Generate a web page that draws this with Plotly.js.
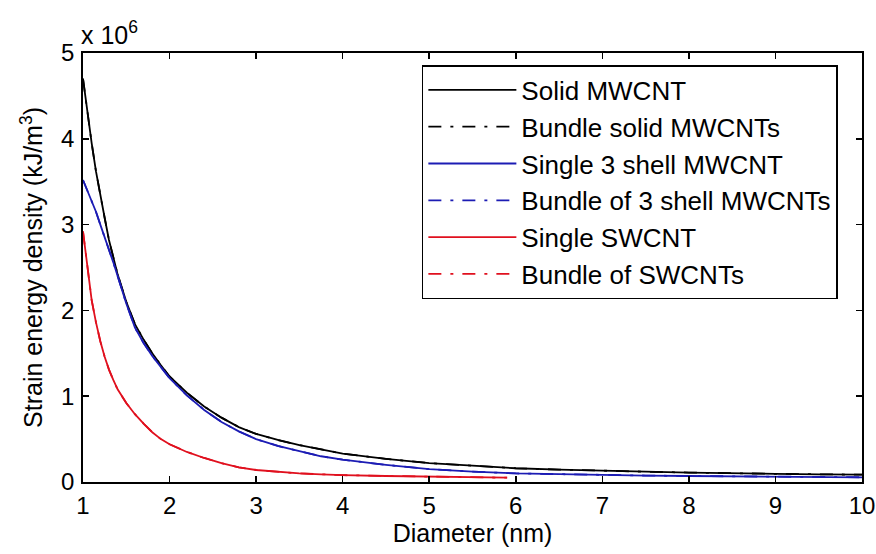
<!DOCTYPE html>
<html>
<head>
<meta charset="utf-8">
<script src="https://cdn.plot.ly/plotly-3.0.1.min.js"></script>
<style>html,body{margin:0;padding:0;background:#fff;}#chart{width:876px;height:554px;}</style>
</head>
<body>
<div id="chart"></div>
<script>
// Diameter (nm)
var diameter = [1.0,1.05,1.1,1.15,1.2,1.25,1.3,1.35,1.4,1.5,1.6,1.7,1.8,1.9,2.0,2.2,2.4,2.6,2.8,3.0,3.25,3.5,3.75,4.0,4.5,5.0,5.5,6.0,6.5,7.0,7.5,8.0,8.5,9.0,9.5,10.0];
var swcntDiameter = [1.0,1.05,1.1,1.15,1.2,1.25,1.3,1.35,1.4,1.5,1.6,1.7,1.8,1.9,2.0,2.2,2.4,2.6,2.8,3.0,3.25,3.5,3.75,4.0,4.5,5.0,5.5,5.9];
// Strain energy density, in units of 10^6 kJ/m^3
var solidMWCNT = [4.70,4.30,3.95,3.62,3.33,3.08,2.82,2.62,2.42,2.10,1.84,1.66,1.50,1.36,1.23,1.04,0.88,0.75,0.64,0.56,0.49,0.43,0.38,0.33,0.27,0.22,0.19,0.16,0.145,0.13,0.12,0.11,0.10,0.095,0.09,0.085];
var bundleSolidMWCNT = [4.70,4.30,3.95,3.62,3.33,3.08,2.82,2.62,2.42,2.10,1.84,1.66,1.50,1.36,1.23,1.04,0.88,0.75,0.64,0.56,0.49,0.43,0.38,0.33,0.27,0.22,0.19,0.16,0.145,0.13,0.12,0.11,0.10,0.095,0.09,0.085];
var threeShellMWCNT = [3.52,3.40,3.29,3.15,3.00,2.86,2.70,2.56,2.40,2.08,1.80,1.62,1.47,1.34,1.21,1.01,0.84,0.70,0.59,0.50,0.42,0.36,0.30,0.26,0.20,0.15,0.12,0.10,0.09,0.08,0.075,0.07,0.065,0.06,0.058,0.055];
var bundleThreeShellMWCNT = [3.52,3.40,3.29,3.15,3.00,2.86,2.70,2.56,2.40,2.08,1.80,1.62,1.47,1.34,1.21,1.01,0.84,0.70,0.59,0.50,0.42,0.36,0.30,0.26,0.20,0.15,0.12,0.10,0.09,0.08,0.075,0.07,0.065,0.06,0.058,0.055];
var singleSWCNT = [2.92,2.50,2.12,1.86,1.64,1.46,1.31,1.19,1.08,0.92,0.79,0.68,0.58,0.50,0.44,0.35,0.28,0.22,0.17,0.14,0.12,0.10,0.09,0.08,0.07,0.06,0.055,0.05];
var bundleSWCNT = [2.92,2.50,2.12,1.86,1.64,1.46,1.31,1.19,1.08,0.92,0.79,0.68,0.58,0.50,0.44,0.35,0.28,0.22,0.17,0.14,0.12,0.10,0.09,0.08,0.07,0.06,0.055,0.05];
var xTicks = [1,2,3,4,5,6,7,8,9,10];
var yTicks = [0,1,2,3,4,5];
var yTickLabels = ['0','1','2','3','4','5'];

var BLACK = '#000000', BLUE = '#1c1cb4', RED = '#e0101e';
var DASHDOT = '13px,9px,3px,9px';
var FONT = 'Liberation Sans, Arial, sans-serif';

var traces = [
  {x: diameter, y: solidMWCNT, name: 'Solid MWCNT', line: {color: BLACK, width: 1.8}},
  {x: diameter, y: bundleSolidMWCNT, name: 'Bundle solid MWCNTs', line: {color: BLACK, width: 1.8, dash: DASHDOT}},
  {x: diameter, y: threeShellMWCNT, name: 'Single 3 shell MWCNT', line: {color: BLUE, width: 1.8}},
  {x: diameter, y: bundleThreeShellMWCNT, name: 'Bundle of 3 shell MWCNTs', line: {color: BLUE, width: 1.8, dash: DASHDOT}},
  {x: swcntDiameter, y: singleSWCNT, name: 'Single SWCNT', line: {color: RED, width: 1.8}},
  {x: swcntDiameter, y: bundleSWCNT, name: 'Bundle of SWCNTs', line: {color: RED, width: 1.8, dash: DASHDOT}}
].map(function(t, i){ t.type = 'scatter'; t.mode = 'lines'; t.legendgroup = 'g' + i; return t; });

var layout = {
  width: 876, height: 554,
  margin: {l: 83, r: 14, t: 53, b: 72, pad: 0},
  paper_bgcolor: '#ffffff', plot_bgcolor: '#ffffff',
  font: {family: FONT, size: 24, color: '#000'},
  showlegend: true,
  legend: {
    x: 0.435, y: 0.972, xanchor: 'left', yanchor: 'top',
    bgcolor: '#ffffff', bordercolor: '#000', borderwidth: 1.5,
    font: {family: FONT, size: 26, color: '#000'},
    itemwidth: 88, tracegroupgap: 3, traceorder: 'normal',
    entrywidth: 420, entrywidthmode: 'pixels'
  },
  xaxis: {
    range: [1, 10], tickvals: xTicks, ticks: 'inside', ticklen: 6, tickwidth: 1.5, tickcolor: '#000',
    showline: true, linecolor: '#000', linewidth: 1.8, mirror: 'ticks', showgrid: false, zeroline: false,
    tickfont: {family: FONT, size: 24}, ticklabelstandoff: 1,
    title: {text: 'Diameter (nm)', font: {family: FONT, size: 25}, standoff: 4}
  },
  yaxis: {
    range: [0, 5], tickvals: yTicks, ticktext: yTickLabels, ticks: 'inside', ticklen: 6, tickwidth: 1.5, tickcolor: '#000',
    showline: true, linecolor: '#000', linewidth: 1.8, mirror: 'ticks', showgrid: false, zeroline: false,
    tickfont: {family: FONT, size: 24}, ticklabelstandoff: 2,
    title: {text: 'Strain energy density (kJ/m<sup>3</sup>)', font: {family: FONT, size: 25}, standoff: 11}
  },
  annotations: [{
    xref: 'paper', yref: 'paper', x: 0, y: 1, xanchor: 'left', yanchor: 'bottom', yshift: 2, xshift: -4,
    text: 'x 10<sup>6</sup>', showarrow: false, font: {family: FONT, size: 25, color: '#000'}
  }]
};

Plotly.newPlot('chart', traces, layout, {displayModeBar: false, staticPlot: true});
</script>
</body>
</html>
